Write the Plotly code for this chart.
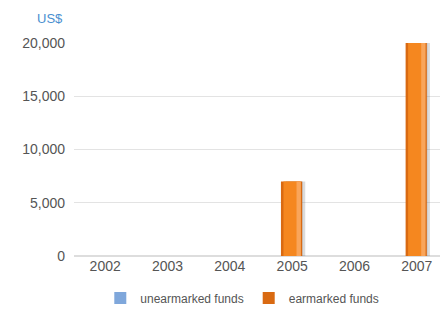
import plotly.graph_objects as go

years = ["2002", "2003", "2004", "2005", "2006", "2007"]
unearmarked = [0, 0, 0, 0, 0, 0]
earmarked = [0, 0, 0, 7000, 0, 20000]
y_ticks = [0, 5000, 10000, 15000, 20000]
y_tick_labels = ["0", "5,000", "10,000", "15,000", "20,000"]

fig = go.Figure()
# soft shadow to the right
fig.add_trace(go.Bar(x=years, y=earmarked, width=0.31, offset=-0.10,
                     marker=dict(color="rgba(90,90,90,0.22)", line_width=0),
                     showlegend=False, hoverinfo="skip"))
fig.add_trace(go.Bar(x=years, y=earmarked, width=0.27, offset=-0.10,
                     marker=dict(color="rgba(90,90,90,0.20)", line_width=0),
                     showlegend=False, hoverinfo="skip"))
fig.add_trace(go.Bar(x=years, y=unearmarked, name="unearmarked funds",
                     width=0.34, offset=-0.18,
                     marker=dict(color="#7FA7DB", line_width=0)))
fig.add_trace(go.Bar(x=years, y=earmarked, name="earmarked funds",
                     width=0.34, offset=-0.18,
                     marker=dict(color="#D96A12", line_width=0)))
# highlight layers for cylindrical look
fig.add_trace(go.Bar(x=years, y=earmarked, width=0.27, offset=-0.14,
                     marker=dict(color="#F5871F", line_width=0),
                     showlegend=False, hoverinfo="skip"))
fig.add_trace(go.Bar(x=years, y=earmarked, width=0.07, offset=0.07,
                     marker=dict(color="#F9A55A", line_width=0),
                     showlegend=False, hoverinfo="skip"))

fig.update_layout(
    width=440, height=304,
    margin=dict(l=66, r=0, t=35, b=56, autoexpand=False),
    barmode="overlay",
    plot_bgcolor="white", paper_bgcolor="white",
    font=dict(family="Liberation Sans", size=14, color="#555555"),
    xaxis=dict(showgrid=False, showline=False, ticks="", automargin=False,
               tickfont=dict(size=14, color="#555555")),
    yaxis=dict(range=[0, 20000], tickvals=y_ticks, ticktext=y_tick_labels,
               showgrid=True, gridcolor="#E3E3E3", gridwidth=1, zeroline=True,
               zerolinecolor="#DDDDDD", ticks="", ticklabelstandoff=8,
               automargin=False, tickfont=dict(size=14, color="#555555")),
    legend=dict(orientation="h", x=0.45, xanchor="center", y=-0.197, yanchor="middle",
                font=dict(size=12, color="#555555"), traceorder="normal",
                itemwidth=30),
    annotations=[dict(text="US$", xref="paper", yref="paper", x=-0.024, y=1.117,
                      xanchor="right", yanchor="middle", showarrow=False,
                      font=dict(size=13, color="#4A90D0"))],
)
fig.write_html("out.html")
